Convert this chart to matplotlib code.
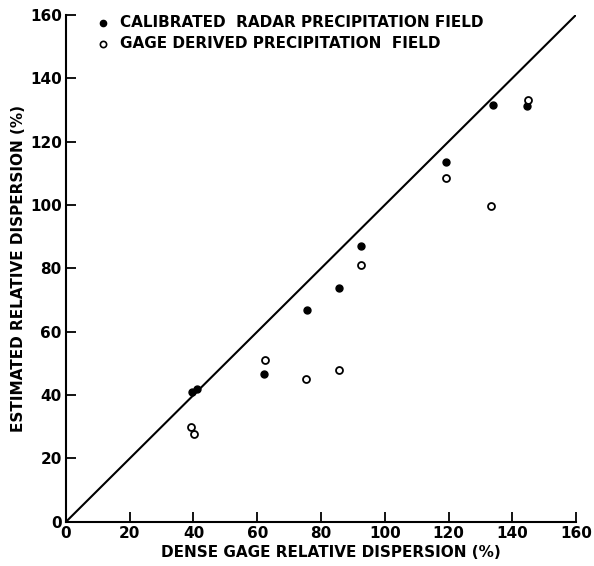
import matplotlib.pyplot as plt

# data (percent)
radar_x = [39.4, 41.1, 62.0, 75.5, 85.7, 92.4, 119.3, 133.8, 144.7]
radar_y = [41.0, 41.9, 46.7, 66.8, 73.9, 87.0, 113.5, 131.5, 131.2]

gage_x = [39.1, 40.1, 62.3, 75.2, 85.5, 92.4, 119.3, 133.4, 144.9]
gage_y = [30.0, 27.7, 51.0, 45.0, 47.9, 81.1, 108.5, 99.6, 133.1]

ticks = [0, 20, 40, 60, 80, 100, 120, 140, 160]

plt.rcParams['font.family'] = 'DejaVu Sans'
plt.rcParams['font.weight'] = 'bold'

fig = plt.figure(figsize=(5.94, 5.66), dpi=100)
ax = fig.add_axes([0.111, 0.078, 0.859, 0.896])

# 1:1 line
ax.plot([0, 160], [0, 160], color='black', linewidth=1.5)

ax.plot(radar_x, radar_y, 'o', color='black', markersize=5)
ax.plot(gage_x, gage_y, 'o', markerfacecolor='white', markeredgecolor='black',
        markeredgewidth=1.3, markersize=5)

ax.set_xlim(0, 160)
ax.set_ylim(0, 160)
ax.set_xticks(ticks)
ax.set_yticks(ticks)
ax.tick_params(direction='in', length=7, width=1.3, labelsize=11, pad=3)
for s in ['top', 'right']:
    ax.spines[s].set_visible(False)
for s in ['left', 'bottom']:
    ax.spines[s].set_linewidth(1.5)

ax.set_xlabel('DENSE GAGE RELATIVE DISPERSION (%)', fontsize=11,
              fontweight='bold', labelpad=1)
ax.xaxis.set_label_coords(0.52, -0.045)
ax.set_ylabel('ESTIMATED RELATIVE DISPERSION (%)', fontsize=11,
              fontweight='bold', labelpad=3)

# legend written as text like the original
ax.plot([11.5], [157.5], 'o', color='black', markersize=4.5, clip_on=False)
ax.plot([11.5], [150.8], 'o', markerfacecolor='white', markeredgecolor='black',
        markeredgewidth=1.2, markersize=4.5, clip_on=False)
ax.text(17, 157.5, 'CALIBRATED  RADAR PRECIPITATION FIELD', fontsize=11, va='center')
ax.text(17, 150.8, 'GAGE DERIVED PRECIPITATION  FIELD', fontsize=11, va='center')

fig.savefig('out.png', dpi=100)
